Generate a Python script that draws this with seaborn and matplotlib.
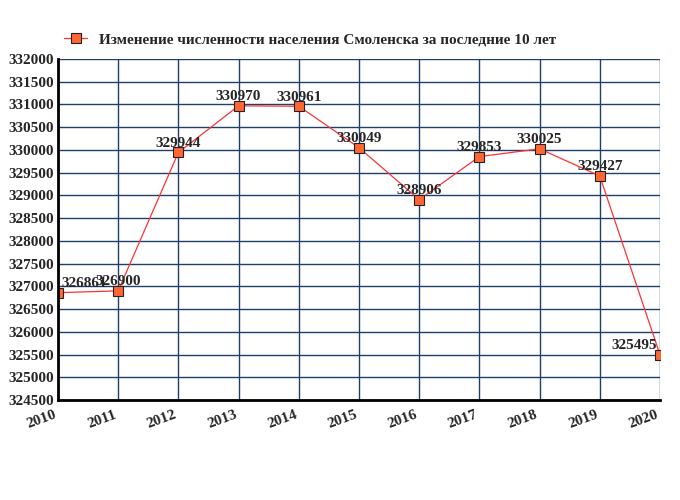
import matplotlib
matplotlib.use("Agg")
import matplotlib.pyplot as plt
import seaborn as sns
import pandas as pd

years = [2010, 2011, 2012, 2013, 2014, 2015, 2016, 2017, 2018, 2019, 2020]
population = [326861, 326900, 329944, 330970, 330961, 330049, 328906, 329853, 330025, 329427, 325495]
label = "Изменение численности населения Смоленска за последние 10 лет"

sns.set_style("white")
plt.rcParams['font.family'] = ['Liberation Serif', 'DejaVu Serif']
df = pd.DataFrame({"year": years, "pop": population})

fig = plt.figure(figsize=(6.8, 5.0), dpi=100)
ax = fig.add_axes([58/680, 1-400/500, 602/680, 341/500])
sns.lineplot(data=df, x="year", y="pop", ax=ax, color="#ff3333", lw=0.9,
             marker="s", markersize=7, markerfacecolor="#ff6633",
             markeredgecolor="#222222", markeredgewidth=0.8, label=label)
n = len(years)
for i, (x, y) in enumerate(zip(years, population)):
    ha = "left" if i == 0 else ("right" if i == n - 1 else "center")
    dx = 0.05 if i == 0 else (-0.05 if i == n - 1 else 0)
    ax.text(x + dx, y + 60, str(y), ha=ha, va="bottom", fontsize=11, fontweight="bold")
ax.set_xlim(2010, 2020)
ax.set_ylim(324500, 332000)
ax.set_xticks(years)
ax.set_yticks(range(324500, 332001, 500))
ax.set_xticklabels([str(y) for y in years], rotation=20, ha="right", fontweight="bold", fontsize=11)
ax.set_yticklabels([str(v) for v in range(324500, 332001, 500)], fontweight="bold", fontsize=11)
ax.grid(True, color="#1f3f6f", lw=1)
ax.set_xlabel(""); ax.set_ylabel("")
for s in ["top", "right"]:
    ax.spines[s].set_visible(False)
for s in ["left", "bottom"]:
    ax.spines[s].set_linewidth(2); ax.spines[s].set_color("black")
ax.tick_params(axis="y", length=0, pad=3)
ax.tick_params(axis="x", length=0, pad=6)
leg = ax.legend(loc="lower left", bbox_to_anchor=(0.0, 1.02), frameon=False,
                prop={"weight": "bold", "size": 11}, handlelength=1.5, borderaxespad=0)
fig.savefig("out.png", dpi=100)
